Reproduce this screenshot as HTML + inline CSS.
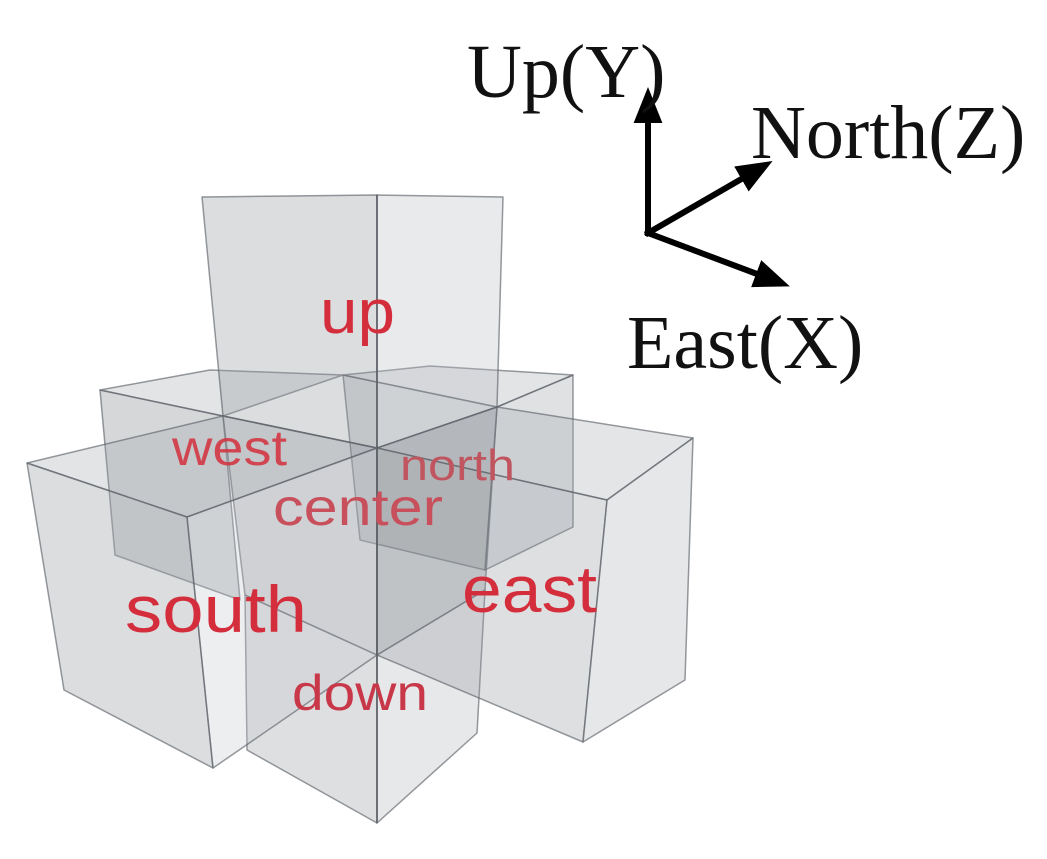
<!DOCTYPE html>
<html><head><meta charset="utf-8"><style>
html,body{margin:0;padding:0;background:#fff;width:1047px;height:859px;overflow:hidden}
svg{display:block}
.f{stroke:rgba(95,100,106,0.65);stroke-width:1.5;stroke-linejoin:round}
.lbl{font-family:"Liberation Sans",Arial,sans-serif;fill:#d42e3c}
.ax{font-family:"Liberation Serif","Times New Roman",serif;fill:#111;font-size:76px}
</style></head><body>
<svg width="1047" height="859" viewBox="0 0 1047 859" xmlns="http://www.w3.org/2000/svg">
<defs>
<marker id="ah" markerWidth="6" markerHeight="6" refX="3" refY="3" orient="auto" markerUnits="strokeWidth">
<path d="M0,0.6 L6,3 L0,5.4 Z" fill="#000"/></marker>
</defs>
<g class="f">
<polygon points="100,390 223,416 240,600 115,555" fill="rgba(125,130,136,0.32)"/>
<polygon points="100,390 210,370 343,375 223,416" fill="rgba(150,156,162,0.27)"/>
<polygon points="343,375 430,366 573,375 497,407" fill="rgba(150,156,162,0.27)"/>
<polygon points="497,407 573,375 573,527 485,570" fill="rgba(150,156,162,0.30)"/>
<polygon points="343,375 497,407 485,570 360,540" fill="rgba(120,126,132,0.27)"/>
<polygon points="223,416 377,448 377,655 245,595" fill="rgba(120,126,132,0.32)"/>
<polygon points="377,448 497,407 485,590 377,655" fill="rgba(120,126,132,0.32)"/>
<polygon points="245,595 377,655 377,823 247,750" fill="rgba(150,156,162,0.32)"/>
<polygon points="377,655 485,590 477,733 377,823" fill="rgba(180,185,190,0.32)"/>
<polygon points="202,197 377,195 377,448 223,416" fill="rgba(150,156,162,0.34)"/>
<polygon points="377,195 503,197 497,407 377,448" fill="rgba(185,190,195,0.32)"/>
<polygon points="27,463 223,416 377,448 187,517" fill="rgba(160,166,172,0.30)"/>
<polygon points="27,463 187,517 213,768 64,690" fill="rgba(165,170,176,0.40)"/>
<polygon points="187,517 377,448 377,655 213,768" fill="rgba(195,200,204,0.30)"/>
<polygon points="377,448 497,407 693,438 607,500" fill="rgba(165,170,176,0.30)"/>
<polygon points="377,448 607,500 583,742 377,655" fill="rgba(150,156,162,0.32)"/>
<polygon points="607,500 693,438 685,680 583,742" fill="rgba(200,204,208,0.47)"/>
</g>
<line x1="377" y1="195" x2="377" y2="823" stroke="rgba(90,95,100,0.6)" stroke-width="2"/>
<text class="lbl" x="320" y="333" font-size="62" textLength="75" lengthAdjust="spacingAndGlyphs">up</text>
<text class="lbl" x="172" y="465" font-size="50" textLength="115" lengthAdjust="spacingAndGlyphs" fill-opacity="0.85">west</text>
<text class="lbl" x="400" y="480" font-size="44" textLength="115" lengthAdjust="spacingAndGlyphs" style="fill:#c05560">north</text>
<text class="lbl" x="273" y="525" font-size="52" textLength="170" lengthAdjust="spacingAndGlyphs" style="fill:#c8505c">center</text>
<text class="lbl" x="125" y="632" font-size="66" textLength="182" lengthAdjust="spacingAndGlyphs">south</text>
<text class="lbl" x="462" y="612" font-size="66" textLength="135" lengthAdjust="spacingAndGlyphs">east</text>
<text class="lbl" x="292" y="710" font-size="50" textLength="136" lengthAdjust="spacingAndGlyphs" style="fill:#c83848">down</text>
<g stroke="#000" stroke-width="6" fill="none" stroke-linecap="square">
<line x1="648" y1="233" x2="648" y2="105" marker-end="url(#ah)"/>
<line x1="648" y1="233" x2="757" y2="170" marker-end="url(#ah)"/>
<line x1="648" y1="233" x2="773" y2="280" marker-end="url(#ah)"/>
</g>
<text class="ax" x="467" y="97">Up(Y)</text>
<text class="ax" x="751" y="158">North(Z)</text>
<text class="ax" x="627" y="368">East(X)</text>
</svg>
</body></html>
